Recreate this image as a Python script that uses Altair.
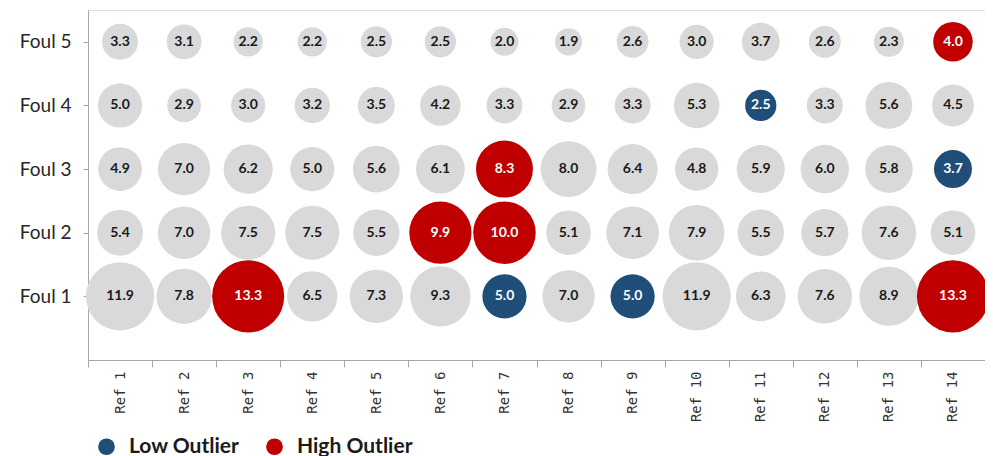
import altair as alt
import pandas as pd

refs = [f"Ref {i}" for i in range(1, 15)]
fouls = [1, 2, 3, 4, 5]

foul1 = [11.9, 7.8, 13.3, 6.5, 7.3, 9.3, 5.0, 7.0, 5.0, 11.9, 6.3, 7.6, 8.9, 13.3]
foul2 = [5.4, 7.0, 7.5, 7.5, 5.5, 9.9, 10.0, 5.1, 7.1, 7.9, 5.5, 5.7, 7.6, 5.1]
foul3 = [4.9, 7.0, 6.2, 5.0, 5.6, 6.1, 8.3, 8.0, 6.4, 4.8, 5.9, 6.0, 5.8, 3.7]
foul4 = [5.0, 2.9, 3.0, 3.2, 3.5, 4.2, 3.3, 2.9, 3.3, 5.3, 2.5, 3.3, 5.6, 4.5]
foul5 = [3.3, 3.1, 2.2, 2.2, 2.5, 2.5, 2.0, 1.9, 2.6, 3.0, 3.7, 2.6, 2.3, 4.0]

# outlier flags: "N" normal, "L" low outlier, "H" high outlier
flag1 = ["N", "N", "H", "N", "N", "N", "L", "N", "L", "N", "N", "N", "N", "H"]
flag2 = ["N", "N", "N", "N", "N", "H", "H", "N", "N", "N", "N", "N", "N", "N"]
flag3 = ["N", "N", "N", "N", "N", "N", "H", "N", "N", "N", "N", "N", "N", "L"]
flag4 = ["N", "N", "N", "N", "N", "N", "N", "N", "N", "N", "L", "N", "N", "N"]
flag5 = ["N", "N", "N", "N", "N", "N", "N", "N", "N", "N", "N", "N", "N", "H"]

status_names = {"N": "Normal", "L": "Low Outlier", "H": "High Outlier"}

rows = []
for f, vals, flags in zip(fouls, [foul1, foul2, foul3, foul4, foul5],
                          [flag1, flag2, flag3, flag4, flag5]):
    for r, v, fl in zip(refs, vals, flags):
        rows.append({"ref": r, "foul": f, "value": v,
                     "status": status_names[fl],
                     "order": 0 if fl == "N" else 1,
                     "label": f"{v:.1f}"})
df = pd.DataFrame(rows)

x_enc = alt.X("ref:N", sort=refs,
              scale=alt.Scale(paddingInner=0, paddingOuter=0),
              axis=alt.Axis(title=None, labelAngle=-90, tickBand="extent",
                            labelFont="DejaVu Sans Mono", labelFontSize=14,
                            labelColor="#333333", tickColor="#a6a6a6",
                            domainColor="#a6a6a6", tickSize=7,
                            labelPadding=4, grid=False))
y_enc = alt.Y("foul:Q", scale=alt.Scale(domain=[0, 5.5], nice=False),
              axis=alt.Axis(title=None, values=fouls,
                            labelExpr="'Foul ' + datum.value",
                            labelFont="Lato", labelFontSize=19,
                            labelColor="#262626", tickColor="#a6a6a6",
                            domainColor="#a6a6a6", tickSize=5,
                            labelPadding=12, grid=False))

bubbles = alt.Chart(df).mark_circle(opacity=1).encode(
    x=x_enc,
    y=y_enc,
    size=alt.Size("value:Q", scale=alt.Scale(domain=[0, 13.3], range=[0, 5200]),
                  legend=None),
    color=alt.Color("status:N",
                    scale=alt.Scale(domain=["Normal", "Low Outlier", "High Outlier"],
                                    range=["#d9d9d9", "#1f4e79", "#c00000"]),
                    legend=alt.Legend(title=None, values=["Low Outlier", "High Outlier"],
                                      orient="none", legendX=8, legendY=426,
                                      direction="horizontal", symbolType="circle",
                                      symbolSize=280, labelFont="Lato",
                                      labelFontSize=21, labelFontWeight="bold",
                                      labelColor="#1a1a1a", columnPadding=24,
                                      labelOffset=12)),
    order=alt.Order("order:Q"),
)

labels = alt.Chart(df).mark_text(font="Lato", fontSize=14, fontWeight="bold").encode(
    x=alt.X("ref:N", sort=refs),
    y=alt.Y("foul:Q"),
    text="label:N",
    color=alt.condition("datum.status == 'Normal'", alt.value("#1a1a1a"), alt.value("white")),
)

chart = alt.layer(bubbles, labels).properties(
    width=897, height=350,
    autosize=alt.AutoSizeParams(type="none"),
    padding={"left": 80, "top": 2, "right": 0, "bottom": 96},
).configure_view(stroke=None).configure(background="white")

chart.save("out.html", embed_options={"renderer": "svg", "actions": False})
